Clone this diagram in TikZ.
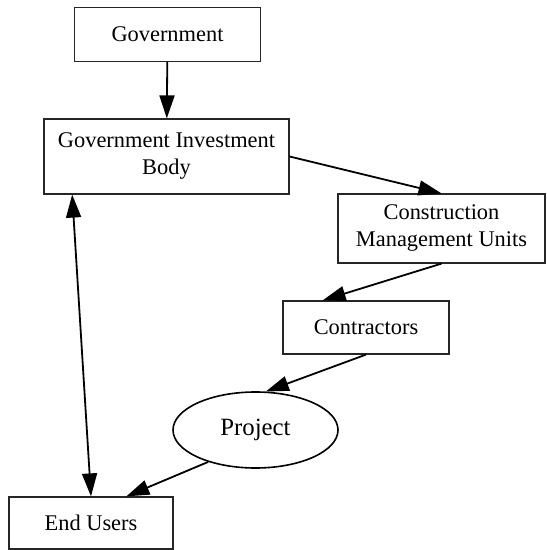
\documentclass[tikz,border=0pt]{standalone}
\usepackage{fontspec}
\setmainfont{Liberation Serif}
\usetikzlibrary{shapes,arrows.meta,positioning,calc}

\begin{document}
\begin{tikzpicture}[x=0.5pt, y=-0.5pt,
    box/.style={draw=black!85, line width=0.6pt, inner sep=0pt, align=center, font=\fontsize{11.2}{13.5}\selectfont},
    oval/.style={ellipse, draw=black, line width=0.8pt, inner sep=0pt, font=\fontsize{12.4}{15}\selectfont},
    arr/.style={-{Triangle[length=11.5pt,width=7.5pt]}, line width=0.9pt}]
    \useasboundingbox (0,0) rectangle (546,550);

    % Bodies
    \node[box, minimum width=93pt, minimum height=26.8pt] (gov) at (167.5,34.5) {Government};
    \node[box, minimum width=122.5pt, minimum height=37.5pt] (gib) at (166.5,156.5) {Government Investment\\Body};
    \node[box, minimum width=103.5pt, minimum height=34.5pt] (cmu) at (441.5,228.5) {Construction\\Management Units};
    \node[box, minimum width=83pt, minimum height=26.5pt] (con) at (366,327.5) {Contractors};
    \node[oval, minimum width=82.5pt, minimum height=38pt] (proj) at (255.5,430) {Project};
    \node[box, minimum width=82pt, minimum height=26pt] (eu) at (91,523) {End Users};

    % Flows
    \draw[arr] (gov) -- (gib);
    \draw[arr] (gib.east) -- (cmu.north);
    \draw[arr] (cmu.south) -- (con.148);
    \draw[arr] (con.south) -- (proj.75);
    \draw[arr] (proj.214) -- (eu.37);
    \draw[arr, {Triangle[length=11.5pt,width=7.5pt]}-{Triangle[length=11.5pt,width=7.5pt]}] (gib.202) -- (eu.north);
\end{tikzpicture}
\end{document}
